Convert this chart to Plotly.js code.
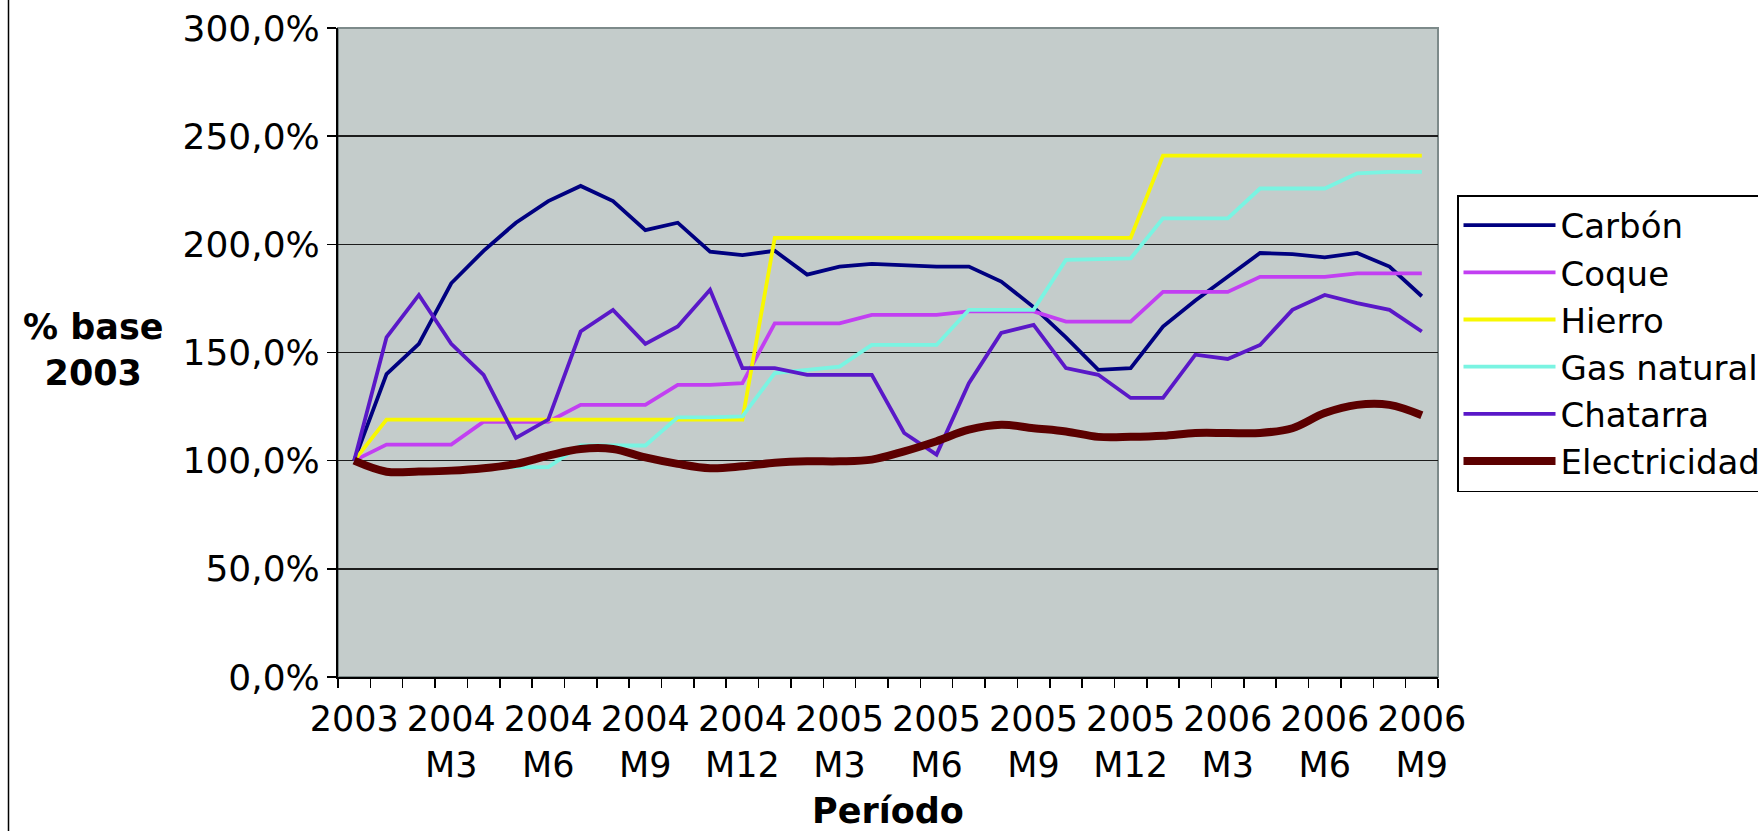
<!DOCTYPE html>
<html>
<head>
<meta charset="utf-8">
<script src="https://cdn.plot.ly/plotly-3.0.1.min.js"></script>
<style>
html,body{margin:0;padding:0;background:#ffffff;}
#chart{width:1758px;height:831px;}
</style>
</head>
<body>
<div id="chart"></div>
<script>
// ---- data ----
const categories = [
  '2003',
  '2004 M1','2004 M2','2004 M3','2004 M4','2004 M5','2004 M6','2004 M7','2004 M8','2004 M9','2004 M10','2004 M11','2004 M12',
  '2005 M1','2005 M2','2005 M3','2005 M4','2005 M5','2005 M6','2005 M7','2005 M8','2005 M9','2005 M10','2005 M11','2005 M12',
  '2006 M1','2006 M2','2006 M3','2006 M4','2006 M5','2006 M6','2006 M7','2006 M8','2006 M9'
];
const tickCategories = ['2003','2004 M3','2004 M6','2004 M9','2004 M12','2005 M3','2005 M6','2005 M9','2005 M12','2006 M3','2006 M6','2006 M9'];
const tickLabels = ['2003','2004<br>M3','2004<br>M6','2004<br>M9','2004<br>M12','2005<br>M3','2005<br>M6','2005<br>M9','2005<br>M12','2006<br>M3','2006<br>M6','2006<br>M9'];
const xTitle = 'Período';
const yTitle = '% base<br>2003';

const carbon       = [100,140,154,182,197,210,220,227,220,206.6,210,196.6,195,197,186,189.7,191,190.5,189.7,189.7,182.8,171,157,142,142.8,162,174,185,196,195.5,194,196,189.7,176];
const coque        = [100,107.4,107.4,107.4,118,118,118,125.8,125.8,125.8,135,135,135.8,163.5,163.5,163.5,167.4,167.4,167.4,169,169,169,164.3,164.3,164.3,178,178,178,185,185,185,186.6,186.6,186.6];
const hierro       = [100,119,119,119,119,119,119,119,119,119,119,119,119,203,203,203,203,203,203,203,203,203,203,203,203,241,241,241,241,241,241,241,241,241];
const gasNatural   = [100,95,95,95,97,97,97,107,107,107,120,120,120.5,140.5,142,143.5,153.5,153.5,153.5,169.7,169.7,169.7,192.8,193.2,193.5,212,212,212,225.8,225.8,225.8,232.8,233.5,233.5];
const chatarra     = [100,157,176.6,154,139.7,110.5,119,159.7,169.7,154,162,179,142.8,142.8,139.7,139.7,139.7,112.8,102.8,135.8,159,162.8,142.8,139.7,129,129,149,147,153.5,169.7,176.6,172.8,169.7,159.7];
const electricidad = [100,94.9,95,95.4,96.5,98.5,102.3,105.4,105.4,101.5,98.5,96.5,97.4,99,99.7,99.7,100.5,104.3,109,114.3,116.6,115,113.5,111,111,111.5,112.8,112.8,112.8,115,122,125.8,125.8,121];

const seriesNames  = ['Carbón','Coque','Hierro','Gas natural','Chatarra','Electricidad'];
const seriesValues = [carbon, coque, hierro, gasNatural, chatarra, electricidad];
const seriesColors = ['#000080','#c23ff2','#f8f800','#7af4e2','#5a18c8','#5c0000'];
const seriesWidths = [3.8,3.8,3.8,3.8,3.8,8];

// ---- build ----
const xIdx = categories.map((c, i) => i);
const tickvals = tickCategories.map(c => categories.indexOf(c));
const FONT = 'DejaVu Sans, Verdana, sans-serif';

const traces = seriesNames.map((name, k) => ({
  type: 'scatter',
  mode: 'lines',
  name: name,
  legendgroup: 'g' + k,
  x: xIdx,
  y: seriesValues[k],
  text: categories,
  hovertemplate: '%{text}: %{y:.1f}%<extra>' + name + '</extra>',
  line: {
    color: seriesColors[k],
    width: seriesWidths[k],
    shape: name === 'Electricidad' ? 'spline' : 'linear',
    smoothing: 1
  }
}));

const L = 338, R = 320, T = 28, B = 154;
const PW = 1758 - L - R, PH = 831 - T - B;

const layout = {
  width: 1758,
  height: 831,
  margin: {l: L, r: R, t: T, b: B, autoexpand: false},
  paper_bgcolor: '#ffffff',
  plot_bgcolor: '#c4cccb',
  font: {family: FONT, size: 34, color: '#000000'},
  showlegend: true,
  legend: {
    xref: 'container', yref: 'container',
    x: 1457 / 1758, y: 1 - 195 / 831,
    xanchor: 'left', yanchor: 'top',
    bgcolor: '#ffffff',
    bordercolor: '#000000',
    borderwidth: 1.5,
    font: {family: FONT, size: 34, color: '#000000'},
    itemwidth: 92,
    tracegroupgap: 0,
    traceorder: 'normal'
  },
  xaxis: {
    range: [-0.5, 33.5],
    tickmode: 'array',
    tickvals: tickvals,
    ticktext: tickLabels,
    ticks: '',
    tickangle: 0,
    showgrid: false,
    zeroline: false,
    showline: true,
    linecolor: '#000000',
    linewidth: 2,
    tickfont: {family: FONT, size: 35, color: '#000000'},
    minor: {ticks: 'outside', tickmode: 'linear', tick0: -0.5, dtick: 1, ticklen: 9, tickwidth: 1.5, tickcolor: '#000000', showgrid: false},
    ticklabelstandoff: 10,
    automargin: false,
    fixedrange: true
  },
  yaxis: {
    range: [0, 300],
    tickmode: 'linear',
    tick0: 0,
    dtick: 50,
    tickformat: '.1f',
    ticksuffix: '%',
    ticks: 'outside',
    ticklen: 9,
    tickwidth: 1.5,
    tickcolor: '#000000',
    showgrid: true,
    gridcolor: '#1c1c1c',
    gridwidth: 1.5,
    zeroline: false,
    showline: true,
    linecolor: '#000000',
    linewidth: 2,
    tickfont: {family: FONT, size: 36, color: '#000000'},
    automargin: false,
    fixedrange: true
  },
  separators: ',.',
  shapes: [
    {type: 'rect', xref: 'paper', yref: 'paper', x0: 0, x1: 1, y0: 0, y1: 1,
     line: {color: '#7d8a8a', width: 2}, fillcolor: 'rgba(0,0,0,0)', layer: 'below'},
    {type: 'line', xref: 'paper', yref: 'paper', x0: (8.5 - L) / PW, x1: (8.5 - L) / PW, y0: -2, y1: 2,
     line: {color: '#000000', width: 1.5}}
  ],
  annotations: [
    {text: '<b>' + yTitle.split('<br>').join('</b><br><b>') + '</b>', xref: 'paper', yref: 'paper',
     x: (93 - L) / PW, y: (677 - 350) / PH,
     xanchor: 'center', yanchor: 'middle', showarrow: false, align: 'center',
     font: {family: FONT, size: 35, color: '#000000'}},
    {text: '<b>' + xTitle + '</b>', xref: 'paper', yref: 'paper',
     x: 0.5, y: (677 - 811) / PH,
     xanchor: 'center', yanchor: 'middle', showarrow: false, align: 'center',
     font: {family: FONT, size: 35, color: '#000000'}}
  ]
};

Plotly.newPlot('chart', traces, layout, {displayModeBar: false, staticPlot: true});
</script>
</body>
</html>
